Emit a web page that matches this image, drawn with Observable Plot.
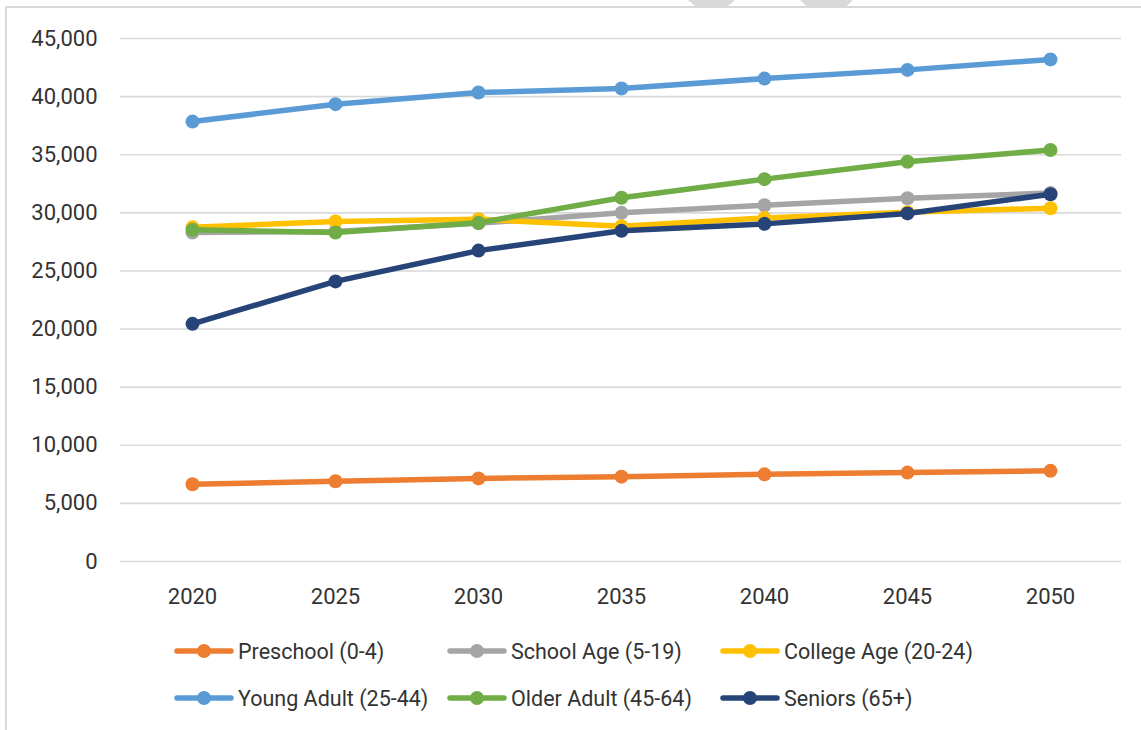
<!DOCTYPE html>
<html>
<head>
<meta charset="utf-8">
<script src="https://cdn.jsdelivr.net/npm/d3@7"></script>
<script src="https://cdn.jsdelivr.net/npm/@observablehq/plot@0.6"></script>
<style>
  html, body { margin: 0; padding: 0; background: #fff; }
  body { width: 1141px; height: 730px; position: relative; overflow: hidden; font-family: Roboto, "Noto Sans", sans-serif; }
  #frame { position: absolute; left: 5px; top: 6px; width: 1200px; height: 800px; border-left: 2px solid #d9d9d9; border-top: 2px solid #d9d9d9; }
  .shard { position: absolute; top: 0; height: 6px; background: #d9d9d9; }
  #chart { position: absolute; left: 0; top: 0; }
  #legend { position: absolute; left: 0; top: 620px; width: 1141px; height: 110px; }
  .item { position: absolute; display: flex; align-items: center; height: 30px; font-size: 21.5px; color: #333; white-space: nowrap; }
  .item svg { margin-right: 4px; }
</style>
</head>
<body>
<div id="frame"></div>
<div class="shard" style="left:688px;width:47px;clip-path:polygon(0 0,100% 0,85% 100%,15% 100%);"></div>
<div class="shard" style="left:800px;width:53px;clip-path:polygon(0 0,100% 0,88% 100%,12% 100%);"></div>
<div id="chart"></div>
<div id="legend"></div>
<script>
const years = ["2020", "2025", "2030", "2035", "2040", "2045", "2050"];
const seriesNames = ["Preschool (0-4)", "School Age (5-19)", "College Age (20-24)", "Young Adult (25-44)", "Older Adult (45-64)", "Seniors (65+)"];
const seriesColors = ["#ED7D31", "#A5A5A5", "#FFC000", "#5B9BD5", "#70AD47", "#264478"];
const preschool  = [6650, 6900, 7150, 7300, 7500, 7650, 7800];
const schoolAge  = [28300, 28400, 29100, 30000, 30650, 31250, 31700];
const collegeAge = [28750, 29250, 29450, 28850, 29550, 30050, 30400];
const youngAdult = [37850, 39350, 40350, 40700, 41550, 42300, 43200];
const olderAdult = [28550, 28300, 29150, 31300, 32900, 34400, 35400];
const seniors    = [20450, 24100, 26750, 28450, 29050, 29950, 31600];
const yTicks = [0, 5000, 10000, 15000, 20000, 25000, 30000, 35000, 40000, 45000];

const seriesValues = [preschool, schoolAge, collegeAge, youngAdult, olderAdult, seniors];
const rows = seriesNames.map((name, i) => years.map((yr, j) => ({series: name, year: yr, value: seriesValues[i][j]})));

const marks = [
  Plot.ruleY(yTicks, {stroke: "#d9d9d9", strokeWidth: 1.6}),
  Plot.axisY({ticks: yTicks, tickSize: 0, tickPadding: 23, tickFormat: d3.format(","), fontSize: 22, label: null, color: "#333"}),
  Plot.axisX({tickSize: 0, tickPadding: 27, fontSize: 22, label: null, color: "#333"})
];
rows.forEach((data, i) => {
  marks.push(Plot.line(data, {x: "year", y: "value", stroke: seriesColors[i], strokeWidth: 5.5, strokeLinejoin: "round", strokeLinecap: "round"}));
  marks.push(Plot.dot(data, {x: "year", y: "value", fill: seriesColors[i], r: 7, stroke: "none"}));
});

const chart = Plot.plot({
  width: 1141,
  height: 620,
  marginLeft: 120,
  marginRight: 20,
  marginTop: 38,
  marginBottom: 59,
  style: {fontFamily: "Roboto, 'Noto Sans', sans-serif", background: "transparent", color: "#333"},
  x: {type: "point", domain: years, padding: 0.5},
  y: {domain: [0, 45000]},
  marks
});
document.getElementById("chart").appendChild(chart);

// legend
const colLeft = [174, 447, 720];
const rowTop = [636, 683];
const legend = document.getElementById("legend");
seriesNames.forEach((name, i) => {
  const item = document.createElement("div");
  item.className = "item";
  item.style.left = colLeft[i % 3] + "px";
  item.style.top = (rowTop[Math.floor(i / 3)] - 620) + "px";
  item.innerHTML = `<svg width="60" height="16"><line x1="3" y1="8" x2="57" y2="8" stroke="${seriesColors[i]}" stroke-width="5.5" stroke-linecap="round"/><circle cx="30" cy="8" r="7" fill="${seriesColors[i]}"/></svg><span>${name}</span>`;
  legend.appendChild(item);
});
</script>
</body>
</html>
